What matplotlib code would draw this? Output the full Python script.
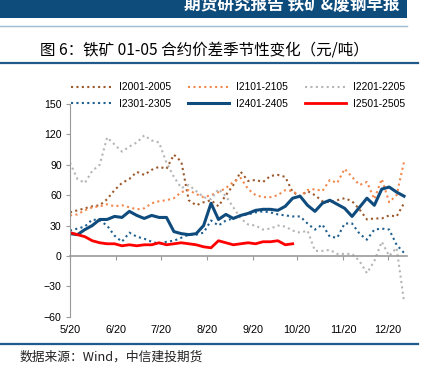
import numpy as np
import pandas as pd
import matplotlib
matplotlib.use("Agg")
import matplotlib.pyplot as plt
from matplotlib.lines import Line2D
from matplotlib.patches import Rectangle

plt.rcParams['font.family'] = ['Liberation Sans', 'Noto Sans CJK SC', 'DejaVu Sans']

# spread values (yuan/ton), one sample every 5 days starting 5/20
start = pd.Timestamp('2000-05-20')
step = 5

i2001 = [43, 45, 47, 49, 50, 56, 65, 72, 76, 83, 80, 85, 88, 86, 100, 93, 55, 50, 53, 55,
         49, 60, 70, 83, 74, 75, 73, 79, 80, 78, 63, 59, 64, 60, 54, 53, 55, 57, 54, 46,
         36, 37, 37, 40, 39, 52]
i2101 = [40, 41, 45, 48, 49, 51, 49, 50, 48, 46, 47, 52, 54, 55, 57, 63, 65, 61, 58, 60,
         63, 67, 73, 77, 66, 60, 58, 58, 60, 65, 64, 59, 65, 66, 64, 75, 72, 86, 78, 70,
         73, 56, 76, 53, 60, 93]
i2201 = [92, 76, 72, 84, 90, 117, 110, 103, 108, 112, 119, 114, 112, 92, 78, 67, 70, 64, 58, 56,
         66, 59, 48, 37, 31, 30, 26, 27, 30, 29, 25, 23, 25, 5, 5, 6, 2, 2, 2, -5,
         -17, -5, 14, 0, 8, -45]
i2301 = [25, 27, 29, 36, 35, 30, 20, 14, 23, 19, 17, 14, 12, 14, 15, 18, 21, 21, 23, 35,
         30, 35, 37, 40, 41, 43, 44, 43, 41, 40, 39, 39, 32, 26, 31, 19, 18, 32, 32, 22,
         16, 26, 27, 26, 11, 3]
i2401 = [22, 21, 26, 30, 36, 36, 39, 38, 44, 40, 37, 40, 38, 38, 24, 22, 21, 22, 30, 52,
         36, 41, 37, 40, 42, 45, 46, 46, 45, 49, 57, 59, 50, 44, 52, 55, 51, 47, 39, 48,
         57, 50, 66, 68, 63, 59]
i2501 = [23, 21, 19, 15, 13, 12, 12, 10, 11, 10, 11, 11, 13, 11, 12, 13, 12, 11, 9, 8,
         15, 13, 11, 12, 13, 12, 14, 14, 15, 11, 12]

tick_dates = ['2000-05-20', '2000-06-20', '2000-07-20', '2000-08-20',
              '2000-09-20', '2000-10-20', '2000-11-20', '2000-12-20']
tick_labels = ['5/20', '6/20', '7/20', '8/20', '9/20', '10/20', '11/20', '12/20']
end_date = '2001-01-02'

dot = (0, (1, 1.6))
series = [
    ('I2001-2005', i2001, '#9c5a2c', dot, 1.5),
    ('I2101-2105', i2101, '#f4884c', dot, 1.5),
    ('I2201-2205', i2201, '#b5b5b5', dot, 1.5),
    ('I2301-2305', i2301, '#1f5f8f', dot, 1.5),
    ('I2401-2405', i2401, '#0f4c7d', '-', 2.2),
    ('I2501-2505', i2501, '#ff0000', '-', 2.0),
]

W, H = 430, 369
fig = plt.figure(figsize=(W / 100, H / 100), dpi=100)

# page decorations
fig.add_artist(Rectangle((0, 1 - 18 / H), 407 / W, 18 / H, transform=fig.transFigure,
                         color='#0e4c7c', lw=0))
fig.text(400 / W, 1 - 4.5 / H, '期货研究报告 铁矿&废钢早报', color='white', fontsize=12,
         fontweight='bold', ha='right', va='center', family=['Noto Sans CJK SC'])
fig.add_artist(Line2D([0, 407 / W], [1 - 26 / H] * 2, transform=fig.transFigure,
                      color='#9fbbd2', lw=1))
fig.text(204 / W, 1 - 50 / H, '图 6：铁矿 01-05 合约价差季节性变化（元/吨）', fontsize=11.2,
         ha='center', va='center', family=['Noto Sans CJK SC', 'DejaVu Sans'])
fig.add_artist(Line2D([0, 418 / W], [1 - 62.5 / H] * 2, transform=fig.transFigure,
                      color='#1f5a8a', lw=1.6))
fig.add_artist(Line2D([0, 418 / W], [1 - 344 / H] * 2, transform=fig.transFigure,
                      color='#1f5a8a', lw=1.6))
fig.text(20 / W, 1 - 357.5 / H, '数据来源：Wind，中信建投期货', fontsize=9.2, style='italic',
         fontweight='medium', ha='left', va='center', color='#222222',
         family=['Noto Sans CJK SC', 'DejaVu Sans'])

ax = fig.add_axes([70 / W, 1 - 316.7 / H, 337 / W, (316.7 - 104) / H])

handles = {}
for name, vals, color, ls, lw in series:
    x = np.arange(len(vals)) * step
    h, = ax.plot(x, vals, color=color, linestyle=ls, lw=lw, label=name)
    handles[name] = h

ticks = [(pd.Timestamp(d) - start).days for d in tick_dates]
ax.set_xlim(0, (pd.Timestamp(end_date) - start).days)
ax.set_ylim(-60, 150)
ax.set_yticks(range(-60, 151, 30))

for s in ['top', 'right']:
    ax.spines[s].set_visible(False)
ax.spines['left'].set_color('#999999')
ax.spines['bottom'].set_position(('data', 0))
ax.spines['bottom'].set_color('#999999')
ax.spines['bottom'].set_linewidth(1.2)
ax.set_xticks(ticks)
ax.tick_params(axis='x', length=3, color='#999999', labelbottom=False)
ax.tick_params(axis='y', length=3, color='#999999', labelsize=7.6, pad=3)

sec = ax.secondary_xaxis(0)
sec.set_xticks(ticks)
sec.set_xticklabels(tick_labels)
sec.tick_params(length=0, labelsize=7.8, pad=6)
sec.spines['bottom'].set_visible(False)

order = ['I2001-2005', 'I2301-2305', 'I2101-2105', 'I2401-2405', 'I2201-2205', 'I2501-2505']
fig.legend([handles[k] for k in order], order, ncol=3, frameon=False, fontsize=7.4,
           loc='upper left', bbox_to_anchor=(71 / W, 1 - 82.5 / H), borderpad=0,
           borderaxespad=0, handlelength=4.0, handletextpad=0.7, columnspacing=1.6,
           labelspacing=0.6)

fig.savefig('out.png', dpi=100)
